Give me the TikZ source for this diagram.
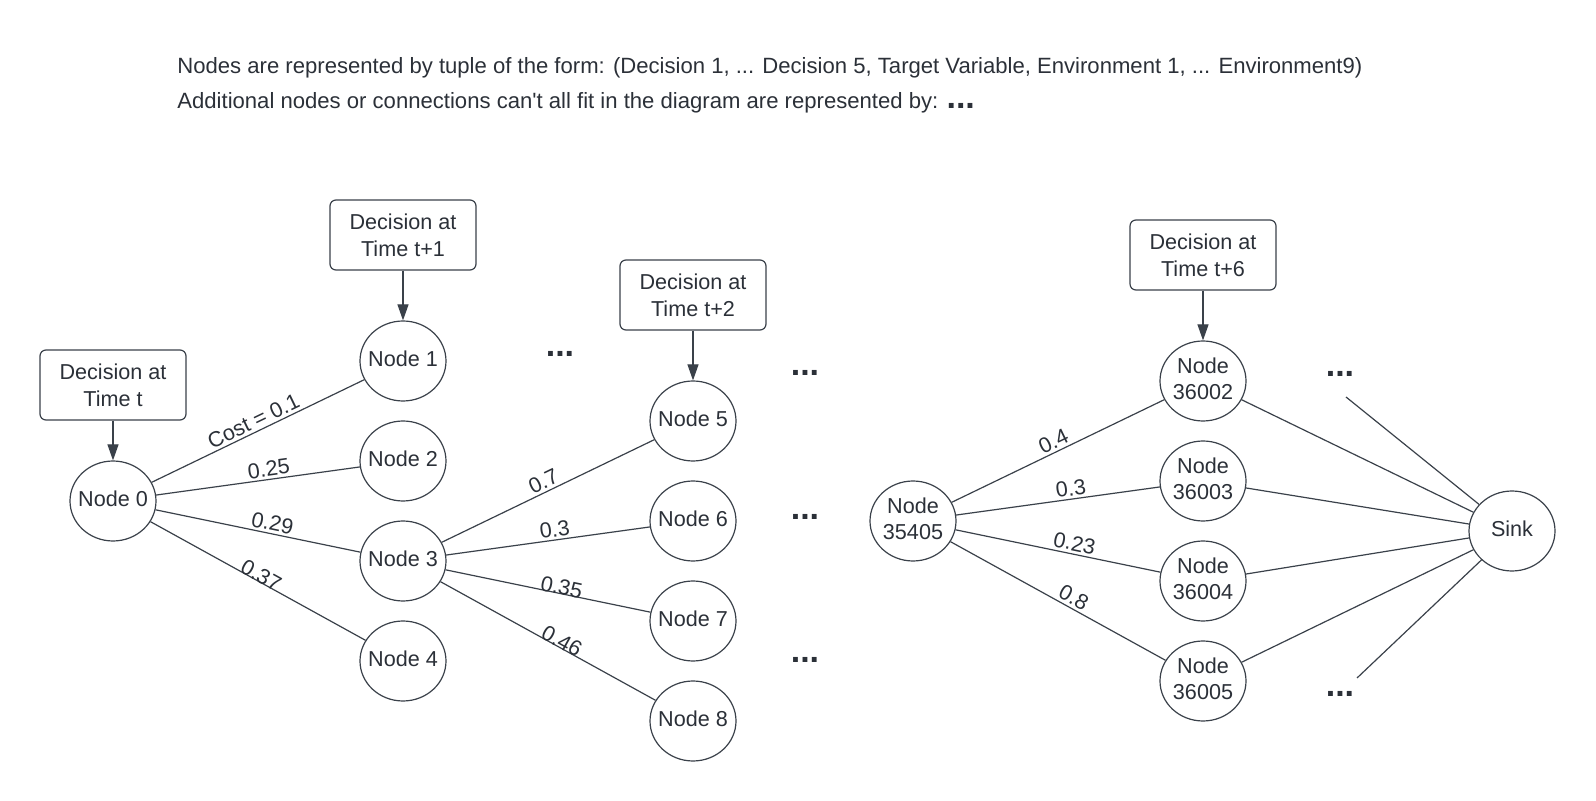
\documentclass[tikz,border=0pt]{standalone}
\usepackage{fontspec}
\setmainfont{Liberation Sans}
\usetikzlibrary{shapes.geometric,arrows.meta}
\definecolor{lc}{HTML}{3A414A}
\definecolor{tc}{HTML}{2B3038}
\newcommand{\ntxt}[1]{\makebox[0pt][c]{\begin{tabular}{@{}c@{}}#1\end{tabular}}}
\begin{document}
\begin{tikzpicture}[x=0.5pt,y=-0.5pt,
  every node/.style={text=tc, font=\fontsize{10.8}{13.3}\selectfont},
  nd/.style={draw=lc, line width=0.6pt, ellipse, minimum width=43pt, minimum height=40pt, inner sep=0pt},
  dec/.style={draw=lc, line width=0.6pt, rounded corners=3pt, minimum width=73pt, minimum height=35pt, align=center, inner sep=0pt},
  edg/.style={draw=lc, line width=0.6pt},
  arr/.style={draw=lc, line width=0.6pt, -{Triangle[width=5.5pt,length=8pt]}},
  lab/.style={sloped, above, inner sep=1.2pt},
  lablow/.style={sloped, above, inner sep=-0.8pt},
  dots/.style={font=\fontsize{17}{17}\bfseries\selectfont, anchor=base, inner sep=0pt},
  hdr/.style={anchor=base west, inner sep=0pt, font=\fontsize{11.05}{13}\selectfont}
]
\useasboundingbox (0,0) rectangle (1596,801);

% header
\node[hdr] (h1) at (177,74) {Nodes are represented by tuple of the form: (Decision 1, ... Decision 5, Target Variable, Environment 1, ... Environment9)};
\node[hdr] (h2) at (177,109) {Additional nodes or connections can\textquotesingle t all fit in the diagram are represented by: {\fontsize{17}{17}\bfseries\selectfont ...}};

% decision boxes
\node[dec] (dt)  at (113,385)  {Decision at\\Time t};
\node[dec] (dt1) at (403,235)  {Decision at\\Time t+1};
\node[dec] (dt2) at (693,295)  {Decision at\\Time t+2};
\node[dec] (dt6) at (1203,255) {Decision at\\Time t+6};

% nodes
\node[nd] (n0) at (113,501) {\ntxt{Node 0}};
\node[nd] (n1) at (403,361) {\ntxt{Node 1}};
\node[nd] (n2) at (403,461) {\ntxt{Node 2}};
\node[nd] (n3) at (403,561) {\ntxt{Node 3}};
\node[nd] (n4) at (403,661) {\ntxt{Node 4}};
\node[nd] (n5) at (693,421) {\ntxt{Node 5}};
\node[nd] (n6) at (693,521) {\ntxt{Node 6}};
\node[nd] (n7) at (693,621) {\ntxt{Node 7}};
\node[nd] (n8) at (693,721) {\ntxt{Node 8}};
\node[nd] (m0) at (913,521)  {\ntxt{Node\\35405}};
\node[nd] (m1) at (1203,381) {\ntxt{Node\\36002}};
\node[nd] (m2) at (1203,481) {\ntxt{Node\\36003}};
\node[nd] (m3) at (1203,581) {\ntxt{Node\\36004}};
\node[nd] (m4) at (1203,681) {\ntxt{Node\\36005}};
\node[nd] (sink) at (1512,531) {\ntxt{Sink}};

% dots
\node[dots] (d1) at (560,357) {...};
\node[dots] (d2) at (805,376) {...};
\node[dots] (d3) at (805,520) {...};
\node[dots] (d4) at (805,663) {...};
\node[dots] (d5) at (1340,377) {...};
\node[dots] (d6) at (1340,697) {...};
\coordinate (c1) at (1346,397);
\coordinate (c2) at (1357,678);

% arrows
\draw[arr] (dt) -- (n0);
\draw[arr] (dt1) -- (n1);
\draw[arr] (dt2) -- (n5);
\draw[arr] (dt6) -- (m1);

% edges
\draw[edg] (n0) -- node[lab, pos=0.5] {Cost = 0.1} (n1);
\draw[edg] (n0) -- node[lab, pos=0.56] {0.25} (n2);
\draw[edg] (n0) -- node[lab, pos=0.56] {0.29} (n3);
\draw[edg] (n0) -- node[lablow, pos=0.5] {0.37} (n4);
\draw[edg] (n3) -- node[lab, pos=0.5] {0.7} (n5);
\draw[edg] (n3) -- node[lab, pos=0.54] {0.3} (n6);
\draw[edg] (n3) -- node[lablow, pos=0.56] {0.35} (n7);
\draw[edg] (n3) -- node[lablow, pos=0.55] {0.46} (n8);
\draw[edg] (m0) -- node[lab, pos=0.5] {0.4} (m1);
\draw[edg] (m0) -- node[lab, pos=0.57] {0.3} (m2);
\draw[edg] (m0) -- node[lab, pos=0.57] {0.23} (m3);
\draw[edg] (m0) -- node[lab, pos=0.55] {0.8} (m4);
\draw[edg] (m1) -- (sink);
\draw[edg] (m2) -- (sink);
\draw[edg] (m3) -- (sink);
\draw[edg] (m4) -- (sink);
\draw[edg] (c1) -- (sink);
\draw[edg] (c2) -- (sink);
\end{tikzpicture}
\end{document}
